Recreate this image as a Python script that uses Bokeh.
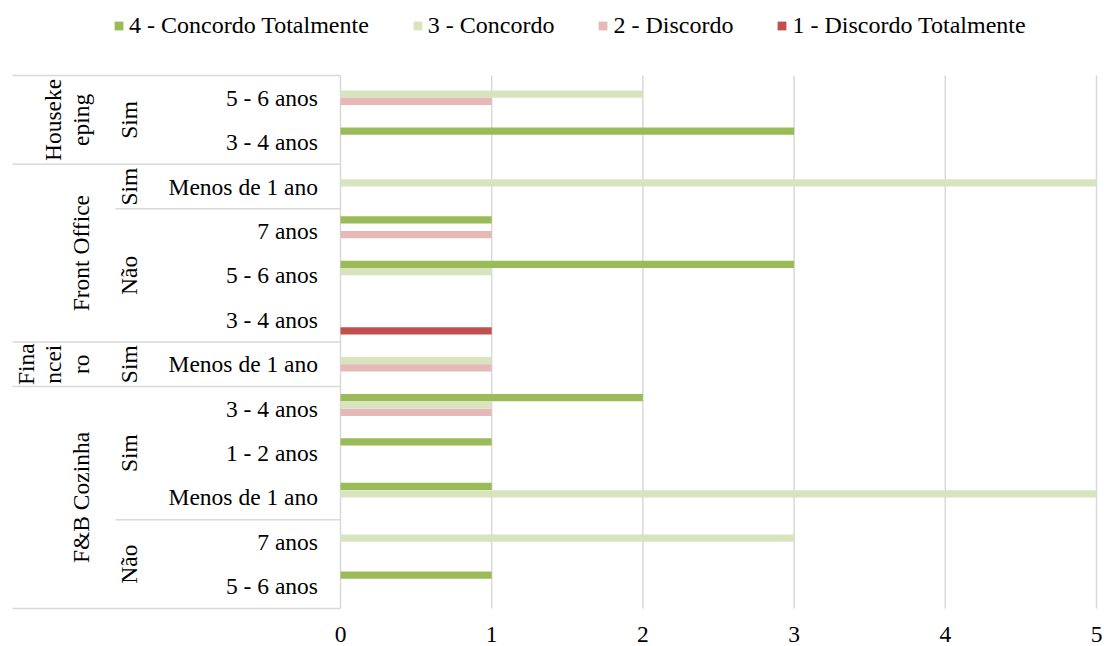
import math

from bokeh.core.properties import value
from bokeh.embed import file_html
from bokeh.models import ColumnDataSource, Legend, LegendItem, Range1d
from bokeh.plotting import figure
from bokeh.resources import INLINE

# ---- data (rows listed bottom to top) ----
departments = ["F&B Cozinha", "F&B Cozinha", "F&B Cozinha", "F&B Cozinha", "F&B Cozinha",
               "Financeiro",
               "Front Office", "Front Office", "Front Office", "Front Office",
               "Housekeeping", "Housekeeping"]
training = ["Não", "Não", "Sim", "Sim", "Sim",
            "Sim",
            "Não", "Não", "Não", "Sim",
            "Sim", "Sim"]
tenure = ["5 - 6 anos", "7 anos", "Menos de 1 ano", "1 - 2 anos", "3 - 4 anos",
          "Menos de 1 ano",
          "3 - 4 anos", "5 - 6 anos", "7 anos", "Menos de 1 ano",
          "3 - 4 anos", "5 - 6 anos"]

series_names = ["4 - Concordo Totalmente", "3 - Concordo", "2 - Discordo", "1 - Discordo Totalmente"]
concordo_totalmente = [1, 0, 1, 1, 2, 0, 0, 3, 1, 0, 3, 0]
concordo = [0, 3, 5, 0, 1, 1, 0, 1, 0, 5, 0, 2]
discordo = [0, 0, 0, 0, 1, 1, 0, 0, 1, 0, 0, 1]
discordo_totalmente = [0, 0, 0, 0, 0, 0, 1, 0, 0, 0, 0, 0]
x_ticks = [0, 1, 2, 3, 4, 5]

# department names wrapped the way they fit their narrow cells
wrapped_names = {"Housekeeping": ["Houseke", "eping"], "Financeiro": ["Fina", "ncei", "ro"]}

# ---- styling ----
colors = ["#9BBB59", "#D7E4BD", "#E6B9B8", "#C0504D"]
FONT = "Liberation Serif"
TEXT_SIZE = "23.5px"
GRID_COLOR = "#D9D9D9"

# layout (canvas pixels); the frame covers the whole canvas
W, H = 1104, 646
LEFT_EDGE, ZERO_X, MAX_X = 12, 340, 1096
TOP, BOTTOM = 75, 608

n = len(tenure)
x_max = x_ticks[-1]
px_per_unit = (MAX_X - ZERO_X) / x_max
row_px = (BOTTOM - TOP) / n


def to_x(px):
    """Canvas x -> data x."""
    return (px - ZERO_X) / px_per_unit


def to_y(py):
    """Canvas y -> data y (rows counted from the bottom)."""
    return (BOTTOM - py) / row_px


p = figure(
    frame_width=W, frame_height=H,
    x_range=Range1d(to_x(0), to_x(W)), y_range=Range1d(to_y(H), to_y(0)),
    output_backend="svg", toolbar_location=None,
    x_axis_location=None, y_axis_location=None,
    min_border=0,
)
p.outline_line_color = None
p.background_fill_color = "white"
p.border_fill_color = "white"
p.xgrid.visible = False
p.ygrid.visible = False

# value gridlines (the one at 0 doubles as the category axis line)
p.segment(x0=x_ticks, y0=[0] * len(x_ticks), x1=x_ticks, y1=[n] * len(x_ticks),
          line_color=GRID_COLOR, line_width=1.5)

# value tick labels
p.text(x=x_ticks, y=[to_y(633.5)] * len(x_ticks), text=[str(t) for t in x_ticks],
       text_align="center", text_baseline="middle", text_font=value(FONT),
       text_font_size=TEXT_SIZE, text_color="black")

# ---- clustered bars ----
series_values = [concordo_totalmente, concordo, discordo, discordo_totalmente]
slot = 1 / 6
offsets = [1.5 * slot, 0.5 * slot, -0.5 * slot, -1.5 * slot]
legend_items = []
for name, vals, col, off in zip(series_names, series_values, colors, offsets):
    rows = [i for i, v in enumerate(vals) if v > 0]
    src = ColumnDataSource(dict(y=[i + 0.5 + off for i in rows], right=[vals[i] for i in rows]))
    r = p.hbar(y="y", left=0, right="right", height=slot * 0.98, source=src,
               fill_color=col, line_color=None)
    legend_items.append(LegendItem(label=name, renderers=[r]))

# ---- multi-level category axis ----
sep_x0, sep_y0, sep_x1, sep_y1 = [], [], [], []
for b in range(n + 1):
    if b == 0 or b == n or departments[b] != departments[b - 1]:
        start = to_x(LEFT_EDGE)
    elif training[b] != training[b - 1]:
        start = to_x(115)
    else:
        continue
    sep_x0.append(start); sep_x1.append(0); sep_y0.append(b); sep_y1.append(b)
p.segment(sep_x0, sep_y0, sep_x1, sep_y1, line_color=GRID_COLOR, line_width=1.5)


def runs(keys):
    out, s = [], 0
    for i in range(1, n + 1):
        if i == n or keys[i] != keys[s]:
            out.append((keys[s], s, i))
            s = i
    return out


# innermost level: tenure
p.text(x=[to_x(317.5)] * n, y=[i + 0.5 for i in range(n)], text=tenure,
       text_align="right", text_baseline="middle", text_font=value(FONT),
       text_font_size=TEXT_SIZE, text_color="black")

# middle level: training (rotated)
mx, my, mt = [], [], []
for key, s, e in runs(list(zip(departments, training))):
    mx.append(to_x(128.5)); my.append((s + e) / 2); mt.append(key[1])
p.text(x=mx, y=my, text=mt, angle=math.pi / 2, text_align="center",
       text_baseline="middle", text_font=value(FONT), text_font_size=TEXT_SIZE,
       text_color="black")

# outer level: department (rotated, wrapped where narrow)
ox, oy, ot = [], [], []
line_gap = 27.5
for key, s, e in runs(departments):
    lines = wrapped_names.get(key, [key])
    for k, line in enumerate(lines):
        ox.append(to_x(80 - line_gap * (len(lines) - 1 - k)))
        oy.append((s + e) / 2)
        ot.append(line)
p.text(x=ox, y=oy, text=ot, angle=math.pi / 2, text_align="center",
       text_baseline="middle", text_font=value(FONT), text_font_size=TEXT_SIZE,
       text_color="black")

# ---- legend across the top ----
legend = Legend(
    items=legend_items, orientation="horizontal", location=(113, 607),
    glyph_width=11, glyph_height=11, label_standoff=5, spacing=43,
    padding=0, margin=0, border_line_color=None, background_fill_alpha=0,
    label_text_font=FONT, label_text_font_size="24px", label_text_color="black",
)
p.add_layout(legend, "center")

open("out.html", "w").write(file_html(p, INLINE))
